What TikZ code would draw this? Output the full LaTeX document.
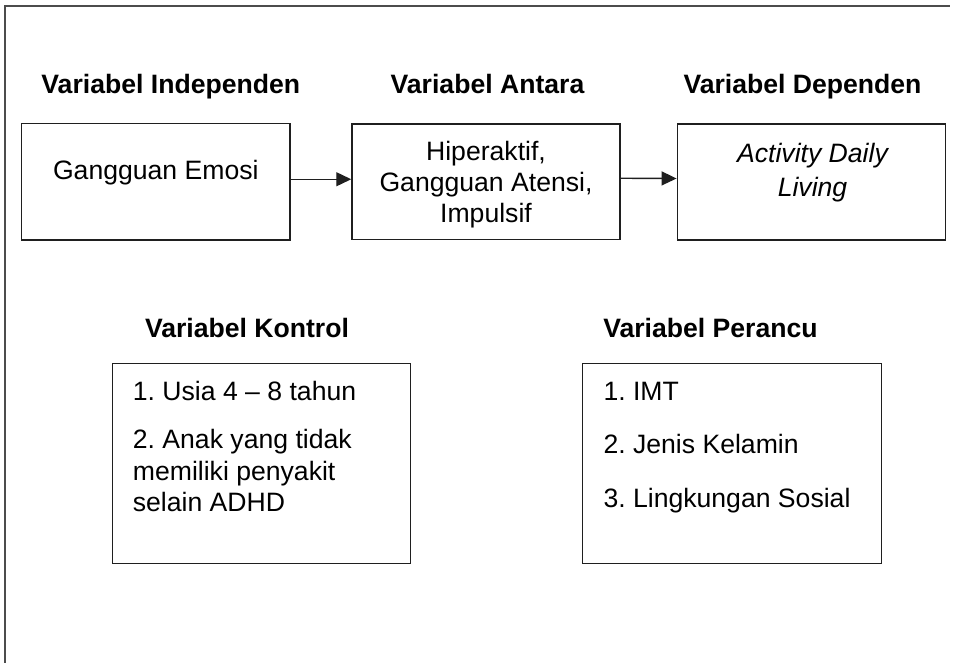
\documentclass[tikz,border=0pt]{standalone}
\usepackage{fontspec}
\setmainfont{Liberation Sans}
\usetikzlibrary{arrows.meta}
\frenchspacing

\begin{document}
\begin{tikzpicture}[x=1pt, y=-1pt,
  box/.style={draw=black!88, line width=1.5pt, rectangle, inner sep=0pt, fill=none},
  heading/.style={font=\fontsize{26.6}{31.5}\bfseries\selectfont, inner sep=0pt, anchor=base},
  body/.style={font=\fontsize{26.6}{31.5}\selectfont, inner sep=0pt, anchor=base},
  item/.style={body, anchor=base west},
  flow/.style={line width=1.4pt, draw=black!88, -{Triangle[length=15pt, width=14pt]}}
]
\useasboundingbox (0,0) rectangle (959,663);

% outer frame (only left and top edges fall inside the page)
\draw[line width=1.7pt, draw=black!70] (5,663) -- (5,6) -- (950,6);

% column headings
\node[heading] (hind) at (170.8,94) {Variabel Independen};
\node[heading] (hant) at (487.5,94) {Variabel Antara};
\node[heading] (hdep) at (802.5,94) {Variabel Dependen};
\node[heading] (hkon) at (247,337) {Variabel Kontrol};
\node[heading] (hper) at (710.5,337) {Variabel Perancu};

% upper row of boxes
\node[box, minimum width=268.3pt, minimum height=116.5pt] (b1) at (155.85,181.75) {};
\node[box, minimum width=268pt,   minimum height=115.5pt] (b2) at (486,181.75) {};
\node[box, minimum width=268.4pt, minimum height=116pt]   (b3) at (811.5,182) {};

% lower row of boxes
\node[box, minimum width=298pt, minimum height=200.2pt] (bk) at (261.7,463.4) {};
\node[box, minimum width=299pt, minimum height=200pt]   (bp) at (732.2,463.5) {};

% box texts
\node[body] (t1) at (155.8,180) {Gangguan Emosi};

\node[body] (t2a) at (486,160.7) {Hiperaktif,};
\node[body] (t2b) at (486,191.7) {Gangguan Atensi,};
\node[body] (t2c) at (486,222.7) {Impulsif};

\node[body] (t3a) at (812.5,162.5) {\itshape Activity Daily};
\node[body] (t3b) at (812.5,196.5) {\itshape Living};

\node[item] (k1)  at (132.7,400.7) {1. Usia 4 -- 8 tahun};
\node[item] (k2a) at (132.7,448.3) {2. Anak yang tidak};
\node[item] (k2b) at (132.7,480)   {memiliki penyakit};
\node[item] (k2c) at (132.7,511.7) {selain ADHD};

\node[item] (p1) at (603.3,400)   {1. IMT};
\node[item] (p2) at (603.3,453.3) {2. Jenis Kelamin};
\node[item] (p3) at (603.3,507.3) {3. Lingkungan Sosial};

% connectors
\draw[flow] ([yshift=2.5pt]b1.east) -- ([yshift=2.5pt]b2.west);
\draw[flow] ([yshift=3.5pt]b2.east) -- ([yshift=3.5pt]b3.west);
\end{tikzpicture}
\end{document}
